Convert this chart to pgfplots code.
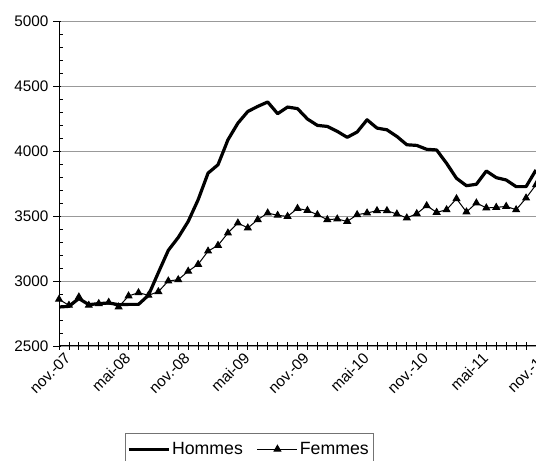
\documentclass[border=0pt]{standalone}
\usepackage{fontspec}
\setmainfont{Liberation Sans}
\usepackage{pgfplots}
\pgfplotsset{compat=1.18}

\pgfplotstableread{
i hommes femmes
0 2800 2859
1 2805 2813
2 2865 2877
3 2818 2813
4 2826 2826
5 2831 2836
6 2818 2800
7 2820 2885
8 2820 2910
9 2890 2890
10 3065 2918
11 3236 3000
12 3335 3010
13 3458 3075
14 3625 3128
15 3830 3230
16 3894 3274
17 4086 3369
18 4214 3446
19 4304 3408
20 4343 3472
21 4377 3523
22 4287 3505
23 4338 3497
24 4326 3558
25 4246 3543
26 4197 3510
27 4189 3472
28 4151 3477
29 4105 3458
30 4146 3510
31 4240 3523
32 4176 3541
33 4163 3541
34 4112 3515
35 4048 3485
36 4043 3518
37 4013 3579
38 4008 3528
39 3905 3548
40 3790 3633
41 3733 3531
42 3744 3600
43 3846 3562
44 3795 3566
45 3777 3574
46 3726 3548
47 3726 3638
48 3854 3740
}\chomage

\begin{document}
\begin{tikzpicture}
\begin{axis}[
    scale only axis,
    width=477pt, height=325pt,
    xmin=0, xmax=48,
    ymin=2500, ymax=5000,
    axis x line*=bottom,
    axis y line*=left,
    axis line style={black, line width=1pt},
    xtick={0,6,...,48},
    xticklabels={nov.-07,mai-08,nov.-08,mai-09,nov.-09,mai-10,nov.-10,mai-11,nov.-11},
    extra x ticks={1,2,3,4,5,7,8,9,10,11,13,14,15,16,17,19,20,21,22,23,25,26,27,28,29,31,32,33,34,35,37,38,39,40,41,43,44,45,46,47},
    extra x tick labels={},
    extra x tick style={grid=none},
    ytick={2500,3000,3500,4000,4500,5000},
    yticklabels={2500,3000,3500,4000,4500,5000},
    minor ytick={2600,2700,2800,2900,3100,3200,3300,3400,3600,3700,3800,3900,4100,4200,4300,4400,4600,4700,4800,4900},
    tick align=inside,
    major tick length=8pt,
    minor tick length=4pt,
    tick style={black, line width=0.8pt},
    major x tick style={yshift=-4pt},
    major y tick style={xshift=-6pt},
    ymajorgrids,
    major grid style={black!40, line width=0.9pt},
    tick label style={font=\fontsize{15.3}{18}\selectfont},
    yticklabel style={xshift=-7pt},
    xticklabel style={rotate=45, anchor=north east, xshift=3pt, yshift=-4pt},
    legend columns=2,
    legend style={at={(0.398,-0.268)}, anchor=north, draw=black!55,
        font=\fontsize{17.7}{21}\selectfont, inner xsep=2pt, inner ysep=7pt,
        /tikz/every even column/.append style={column sep=12pt}},
    legend image code/.code={\draw[mark repeat=2,mark phase=2,#1] plot coordinates {(0pt,0pt) (20pt,0pt) (40pt,0pt)};},
]
\addplot[black, line width=3.2pt, line join=round] table[x=i, y=hommes] {\chomage};
\addlegendentry{Hommes}
\addplot[black, line width=1pt, mark=triangle*, mark size=3.8pt, mark options={solid}] table[x=i, y=femmes] {\chomage};
\addlegendentry{Femmes}
\coordinate (bl) at (rel axis cs:0,0);
\coordinate (tr) at (rel axis cs:1,1);
\end{axis}
\pgfresetboundingbox
\path[use as bounding box] ([xshift=-59pt,yshift=-115pt]bl) rectangle ([yshift=21pt]tr);
\end{tikzpicture}
\end{document}
